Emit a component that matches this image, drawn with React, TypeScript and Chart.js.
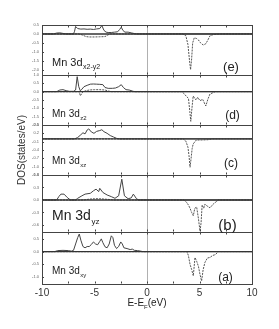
import React, { useEffect, useRef } from 'react';
import { Chart, registerables } from 'chart.js';
Chart.register(...registerables);

// ---------- data (energy in eV, DOS in states/eV) ----------
const xTickValues = [-10, -5, 0, 5, 10];
const minorTickValues = [-7.5, -5, -2.5, 0, 2.5, 5, 7.5];

// panel (e) Mn 3d x2-y2
const eUpE = [-10, -8.9, -8.6, -8.3, -8.0, -7.7, -7.0, -6.9, -6.8, -6.6, -6.3, -6.0, -5.7, -5.4, -5.1, -4.8, -4.5, -4.3, -4.1, -3.9, -3.7, -3.4, -3.1, -2.8, -2.6, -2.45, -2.3, -2.1, -1.8, -1.5, -1.2, -1.0, 10];
const eUpV = [0, 0, 0.05, 0.06, 0.03, 0, 0, 0.15, 0.42, 0.3, 0.27, 0.28, 0.26, 0.27, 0.25, 0.28, 0.3, 0.47, 0.2, 0.1, 0.08, 0.08, 0.1, 0.12, 0.25, 0.38, 0.2, 0.1, 0.1, 0.06, 0.02, 0, 0];
const eDnE = [-10, -6.5, -6.2, -5.8, -5.5, -5.0, -4.5, -4.0, -3.7, -3.5, 3.4, 3.7, 3.9, 4.05, 4.15, 4.25, 4.35, 4.5, 4.7, 4.9, 5.1, 5.35, 5.6, 5.8, 6.0, 6.3, 6.6, 7.0, 10];
const eDnV = [0, 0, -0.05, -0.15, -0.17, -0.17, -0.16, -0.15, -0.05, 0, 0, -0.1, -0.6, -1.5, -2.0, -1.4, -0.5, -0.22, -0.25, -0.34, -0.5, -0.62, -0.55, -0.34, -0.1, -0.04, -0.02, 0, 0];

// panel (d) Mn 3d z2
const dUpE = [-10, -8.6, -8.3, -8.0, -7.7, -7.4, -7.0, -6.8, -6.65, -6.5, -6.35, -6.2, -6.0, -5.7, -5.4, -5.1, -4.8, -4.5, -4.2, -4.0, -3.7, -3.3, -3.0, -2.7, -2.45, -2.25, -2.0, -1.7, -1.4, -1.2, 10];
const dUpV = [0, 0, 0.1, 0.12, 0.06, 0.02, 0.02, 0.1, 0.9, 0.3, 0.05, 0.15, 0.3, 0.38, 0.45, 0.46, 0.45, 0.44, 0.42, 0.25, 0.2, 0.2, 0.22, 0.3, 0.42, 0.25, 0.12, 0.1, 0.04, 0, 0];
const dDnE = [-10, -6.45, -6.35, -6.1, -5.8, -5.5, -5.0, -4.5, -4.0, -3.7, -3.4, 3.3, 3.5, 3.78, 3.95, 4.08, 4.17, 4.28, 4.4, 4.67, 4.83, 5.05, 5.3, 5.6, 5.8, 6.0, 6.5, 10];
const dDnV = [0, 0, -0.25, 0, 0.06, 0.1, 0.12, 0.12, 0.1, 0.04, 0, 0, -0.1, -0.3, -0.4, -1.2, -1.78, -1.0, -0.26, -0.5, -0.34, -0.54, -0.46, -0.86, -0.45, -0.14, 0, 0];

// panel (c) Mn 3d xz
const cUpE = [-10, -6.9, -6.6, -6.3, -6.1, -5.9, -5.7, -5.55, -5.3, -5.05, -4.8, -4.5, -4.3, -4.1, -3.8, -3.5, -3.2, -2.9, -2.6, 10];
const cUpV = [0, 0, 0.05, 0.15, 0.22, 0.18, 0.32, 0.36, 0.25, 0.2, 0.27, 0.3, 0.33, 0.26, 0.2, 0.12, 0.07, 0.02, 0, 0];
const cDnE = [-10, 3.45, 3.7, 3.9, 4.0, 4.1, 4.2, 4.3, 4.4, 4.7, 5.2, 5.8, 6.2, 10];
const cDnV = [0, 0, -0.08, -0.3, -0.6, -1.02, -0.7, -0.35, -0.18, -0.04, -0.04, -0.03, 0, 0];

// panel (b) Mn 3d yz
const bUpE = [-10, -8.6, -8.4, -8.2, -7.9, -7.6, -7.3, -6.8, -6.6, -6.2, -5.9, -5.4, -5.1, -4.85, -4.6, -4.5, -4.2, -3.8, -3.4, -3.05, -2.7, -2.4, -2.15, -1.8, -1.5, -1.3, -1.0, -0.8, 10];
const bUpV = [0, 0, 0.08, 0.14, 0.14, 0.06, 0, 0, 0.04, 0.1, 0.14, 0.16, 0.22, 0.26, 0.2, 0.28, 0.18, 0.12, 0.08, 0.04, 0.1, 0.5, 0.1, 0.03, 0.05, 0.14, 0.03, 0, 0];
const bDnE = [-10, -6.0, -5.5, -5.0, -4.5, -4.0, -3.5, -3.2, 3.5, 3.75, 3.94, 4.1, 4.25, 4.41, 4.55, 4.73, 4.9, 5.05, 5.15, 5.25, 5.4, 5.52, 5.7, 6.0, 6.3, 6.8, 10];
const bDnV = [0, 0, 0.02, 0.03, 0.03, 0.02, 0.01, 0, 0, -0.05, -0.12, -0.2, -0.3, -0.38, -0.2, -0.17, -0.45, -0.75, -0.55, -0.12, -0.2, -0.1, -0.14, -0.19, -0.1, 0, 0];

// panel (a) Mn 3d xy
const aUpE = [-10, -8.8, -8.5, -8.0, -7.5, -7.2, -7.0, -6.8, -6.6, -6.45, -6.3, -6.1, -5.9, -5.7, -5.5, -5.3, -5.1, -4.9, -4.7, -4.5, -4.35, -4.2, -4.0, -3.8, -3.6, -3.4, -3.25, -3.1, -2.9, -2.7, -2.5, -2.35, -2.2, -1.9, -1.6, -1.4, -1.2, -0.9, -0.6, -0.4, 10];
const aUpV = [0, 0, 0.04, 0.05, 0.04, 0.02, 0.05, 0.3, 0.55, 0.69, 0.45, 0.2, 0.15, 0.2, 0.2, 0.28, 0.38, 0.3, 0.27, 0.4, 0.5, 0.35, 0.19, 0.15, 0.3, 0.62, 0.55, 0.25, 0.12, 0.2, 0.38, 0.3, 0.15, 0.12, 0.08, 0.1, 0.05, 0.04, 0.02, 0, 0];
const aDnE = [-10, 3.8, 3.94, 4.1, 4.25, 4.41, 4.57, 4.75, 4.9, 5.05, 5.2, 5.35, 5.52, 5.75, 6.0, 6.25, 6.5, 6.8, 10];
const aDnV = [0, 0, -0.15, -0.5, -0.7, -0.95, -0.23, -0.4, -0.58, -0.9, -1.15, -0.7, -0.42, -0.25, -0.23, -0.15, -0.12, 0, 0];

// panel axis ranges (bottom to top order: a, b, c, d, e)
const panelIds = ['yA', 'yB', 'yC', 'yD', 'yE'];
const panelMin = [-1.27, -0.77, -1.3, -2.0, -2.3];
const panelMax = [0.77, 0.6, 0.5, 1.0, 0.5];
const panelStep = [0.5, 0.3, 0.3, 0.5, 0.5];
const panelSubs = ['xy', 'yz', 'xz', 'z2', 'x2-y2'];
const panelLetters = ['(a)', '(b)', '(c)', '(d)', '(e)'];
const upSeries = [[aUpE, aUpV], [bUpE, bUpV], [cUpE, cUpV], [dUpE, dUpV], [eUpE, eUpV]];
const dnSeries = [[aDnE, aDnV], [bDnE, bDnV], [cDnE, cDnV], [dDnE, dDnV], [eDnE, eDnV]];

// ---------- layout / style ----------
const W = 279, H = 329;
const FONT = 'Liberation Sans, Arial, Helvetica, sans-serif';
const panelWeight = [52, 57, 50, 50, 50];
const labelSize = [10, 14, 10, 10, 11];
const labelBase = [10.5, 12.5, 11, 8, 9];      // px above panel bottom
const letterSize = [12, 15, 12, 12, 13];
const letterBase = [3.5, 2, 8.5, 6.5, 4.5];
const letterX = [225.5, 227.5, 231, 232.5, 231];

const pts = (xs: number[], ys: number[]) => xs.map((x, i) => ({ x, y: ys[i] }));

const decor = {
  id: 'decor',
  afterDraw(chart: any) {
    const { ctx, chartArea: ca, scales } = chart;
    const xs = scales.x;
    ctx.save();
    ctx.strokeStyle = '#444';
    ctx.lineWidth = 1;
    panelIds.forEach((id, i) => {
      const s = scales[id];
      const top = Math.round(s.top) + 0.5;
      const bot = Math.round(s.bottom) - 0.5;
      ctx.beginPath();
      ctx.moveTo(ca.left, top); ctx.lineTo(ca.right, top);
      ctx.stroke();
      // zero baseline
      ctx.save();
      ctx.strokeStyle = '#333';
      ctx.lineWidth = 1.4;
      const zy = s.getPixelForValue(0);
      ctx.beginPath();
      ctx.moveTo(ca.left, zy); ctx.lineTo(ca.right, zy);
      ctx.stroke();
      ctx.restore();
      // inward minor ticks along bottom and top
      ctx.beginPath();
      minorTickValues.forEach(v => {
        const px = Math.round(xs.getPixelForValue(v)) + 0.5;
        ctx.moveTo(px, bot); ctx.lineTo(px, bot - 2);
        ctx.moveTo(px, top); ctx.lineTo(px, top + 2);
      });
      // inward y ticks
      s.ticks.forEach((t: any) => {
        const py = Math.round(s.getPixelForValue(t.value)) + 0.5;
        ctx.moveTo(ca.left, py); ctx.lineTo(ca.left + 2, py);
      });
      ctx.stroke();

      // labels "Mn 3d_sub"
      ctx.fillStyle = '#222';
      ctx.textBaseline = 'alphabetic';
      ctx.textAlign = 'left';
      const size = labelSize[i];
      const lx = ca.left + 10;
      const ly = s.bottom - labelBase[i];
      ctx.font = `${size}px ${FONT}`;
      const main = 'Mn 3d';
      ctx.fillText(main, lx, ly);
      const w = ctx.measureText(main).width;
      ctx.font = `${Math.round(size * 0.6)}px ${FONT}`;
      ctx.fillText(panelSubs[i], lx + w + 0.5, ly + size * 0.3);

      // panel letter
      ctx.font = `${letterSize[i]}px ${FONT}`;
      ctx.textAlign = 'center';
      ctx.fillText(panelLetters[i], letterX[i], s.bottom - letterBase[i]);
    });

    // x title E-E_F(eV)
    ctx.fillStyle = '#222';
    ctx.textAlign = 'left';
    const parts: [string, number, number][] = [['E-E', 10, 0], ['F', 6, 2.5], ['(eV)', 10, 0]];
    let total = 0;
    parts.forEach(([t, sz]) => { ctx.font = `${sz}px ${FONT}`; total += ctx.measureText(t).width; });
    let cx = xs.getPixelForValue(0) - total / 2;
    const by = ca.bottom + 22;
    parts.forEach(([t, sz, dy]) => {
      ctx.font = `${sz}px ${FONT}`;
      ctx.fillText(t, cx, by + dy);
      cx += ctx.measureText(t).width;
    });
    ctx.restore();
  },
};

export default function App() {
  const ref = useRef<HTMLCanvasElement>(null);
  useEffect(() => {
    const datasets: any[] = [];
    panelIds.forEach((id, i) => {
      datasets.push({
        data: pts(upSeries[i][0], upSeries[i][1]),
        yAxisID: id, borderColor: '#444', borderWidth: 1, pointRadius: 0, tension: 0, fill: false,
      });
      datasets.push({
        data: pts(dnSeries[i][0], dnSeries[i][1]),
        yAxisID: id, borderColor: '#555', borderWidth: 1, borderDash: [2, 1], pointRadius: 0, tension: 0, fill: false,
      });
    });
    const scales: any = {
      x: {
        type: 'linear', min: -10, max: 10,
        afterBuildTicks: (s: any) => { s.ticks = xTickValues.map(v => ({ value: v })); },
        ticks: { font: { size: 10, family: FONT }, color: '#333', padding: 3, maxRotation: 0 },
        grid: {
          drawTicks: false,
          color: (c: any) => (c.tick && c.tick.value === 0 ? '#b0b0b0' : c.tick && c.tick.value === 10 ? '#444' : 'rgba(0,0,0,0)'),
        },
        border: { color: '#444', width: 1 },
        afterFit: (s: any) => { s.height = 45; },
      },
    };
    panelIds.forEach((id, i) => {
      scales[id] = {
        type: 'linear', position: 'left', stack: 'dos', stackWeight: panelWeight[i], offset: false,
        min: panelMin[i], max: panelMax[i],
        grid: { display: false, drawTicks: false },
        border: { display: true, color: '#444', width: 1 },
        ticks: {
          stepSize: panelStep[i], includeBounds: false, autoSkip: false, padding: 3,
          font: { size: 4, family: FONT }, color: '#666',
          callback: (v: any) => Number(v).toFixed(1),
        },
        title: id === 'yC'
          ? { display: true, text: 'DOS(states/eV)', font: { size: 10, family: FONT }, color: '#333', padding: { top: 4, bottom: 0 } }
          : { display: false },
        afterFit: (s: any) => { s.width = 30; },
      };
    });
    const chart = new Chart(ref.current as HTMLCanvasElement, {
      type: 'line',
      data: { datasets },
      options: {
        animation: false,
        responsive: false,
        devicePixelRatio: 1,
        layout: { padding: { left: 12, right: 27, top: 25, bottom: 0 } },
        plugins: { legend: { display: false }, tooltip: { enabled: false } },
        scales,
      },
      plugins: [decor],
    } as any);
    return () => chart.destroy();
  }, []);
  return (
    <div style={{ position: 'absolute', left: 0, top: 0, width: W, height: H, background: '#fff' }}>
      <canvas ref={ref} width={W} height={H} style={{ display: 'block', width: W, height: H }} />
    </div>
  );
}
